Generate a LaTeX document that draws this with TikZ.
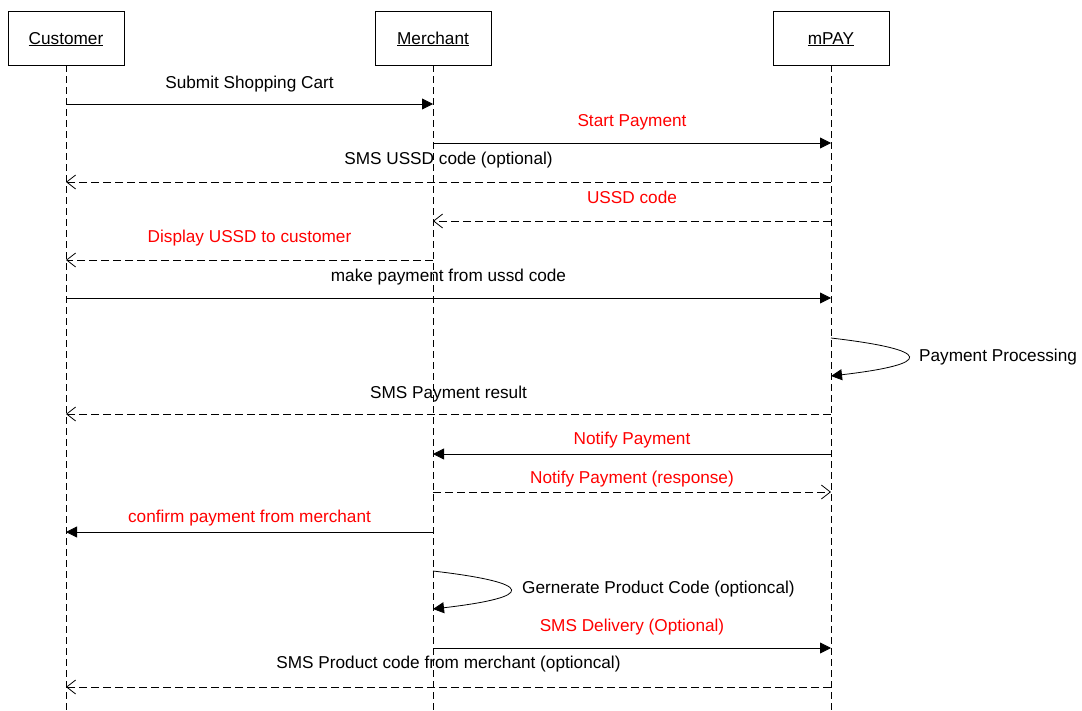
\documentclass[tikz,border=0pt]{standalone}
\usepackage{fontspec}
\setmainfont{Liberation Sans}
\usetikzlibrary{arrows.meta}
\definecolor{msgred}{HTML}{FF0000}

\begin{document}
\begin{tikzpicture}[x=1pt, y=-1pt,
    actor/.style={draw, line width=0.8pt, minimum width=116pt, minimum height=54pt, text height=12.5pt, text depth=0.5pt, font=\fontsize{17.2}{20}\selectfont},
    lifeline/.style={line width=0.8pt, dash pattern=on 7pt off 4pt},
    call/.style={line width=0.8pt, -{Triangle[length=11pt,width=11pt]}},
    reply/.style={line width=0.8pt, dash pattern=on 8pt off 4pt, -{Straight Barb[length=9pt,width=14pt]}},
    lbl/.style={font=\fontsize{17.2}{20}\selectfont, inner sep=0pt, text height=12.5pt, text depth=3.6pt}]
    \useasboundingbox (0,0) rectangle (1082,710);

    % actors and lifelines
    \node[actor] (cust) at (66,38) {\underline{Customer}};
    \node[actor] (merch) at (433,38) {\underline{Merchant}};
    \node[actor] (mpay) at (831,38) {\underline{mPAY}};
    \foreach \n in {cust, merch, mpay}
        \draw[lifeline] (\n.south) -- (\n |- 0,710);

    % calls
    \foreach \src/\dst/\yy/\dd/\col/\txt in {cust/merch/104/20/black/Submit Shopping Cart,
        merch/mpay/143/21/msgred/Start Payment,
        cust/mpay/298/21/black/make payment from ussd code,
        mpay/merch/454/14/msgred/Notify Payment,
        merch/cust/532/14/msgred/confirm payment from merchant,
        merch/mpay/648/21/msgred/SMS Delivery (Optional)}
        \draw[call] (\src |- 0,\yy) -- (\dst |- 0,\yy) node[lbl, text=\col, midway, yshift=\dd pt] {\txt};

    % replies
    \foreach \src/\dst/\yy/\dd/\col/\txt in {mpay/cust/182/22/black/SMS USSD code (optional),
        mpay/merch/221/22/msgred/USSD code,
        merch/cust/260/22/msgred/Display USSD to customer,
        mpay/cust/414/20/black/SMS Payment result,
        merch/mpay/492/13/msgred/Notify Payment (response),
        mpay/cust/687/23/black/SMS Product code from merchant (optioncal)}
        \draw[reply] (\src |- 0,\yy) -- (\dst |- 0,\yy) node[lbl, text=\col, midway, yshift=\dd pt] {\txt};

    % self calls
    \draw[call] (mpay |- 0,338) .. controls (934,350) and (934,364) .. (mpay |- 0,376);
    \node[lbl, anchor=west] (proc) at (919,357) {Payment Processing};
    \draw[call] (merch |- 0,571) .. controls (536,583) and (536,597) .. (merch |- 0,609);
    \node[lbl, anchor=west] (gen) at (522,589) {Gernerate Product Code (optioncal)};
\end{tikzpicture}
\end{document}
